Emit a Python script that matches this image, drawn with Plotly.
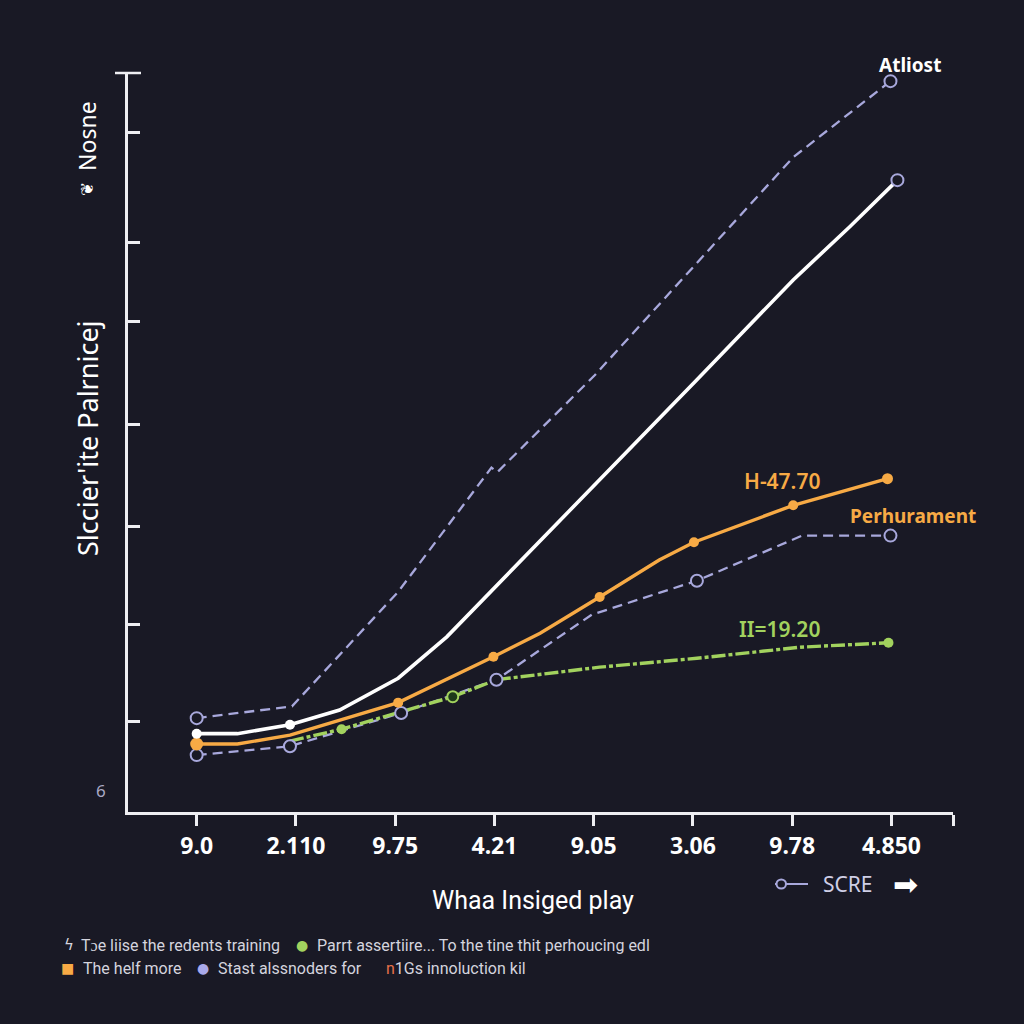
import plotly.graph_objects as go

# ---------------- data ----------------
x_labels = ["9.0", "2.110", "9.75", "4.21", "9.05", "3.06", "9.78", "4.850"]
x_tick_pos = [0, 1, 2, 3, 4, 5, 6, 7]

upper_x = [0, 0.96, 2.03, 2.97, 3.03, 4.01, 5.02, 6.01, 6.99]
upper_y = [12.7, 14.3, 29.8, 46.6, 46.0, 59.1, 74.0, 88.6, 98.9]

white_x = [0, 0.41, 0.94, 1.44, 2.03, 2.52, 5.04, 6.01, 6.58, 7.06]
white_y = [10.6, 10.6, 11.8, 13.8, 18.1, 23.7, 58.5, 72.0, 79.2, 85.5]

orange_x = [0, 0.41, 0.94, 2.03, 2.99, 3.46, 4.06, 4.66, 5.01, 6.01, 6.96]
orange_y = [9.2, 9.2, 10.4, 14.8, 21.0, 24.2, 29.1, 34.1, 36.5, 41.5, 45.1]

lower_x = [0, 0.94, 2.06, 3.02, 3.98, 5.04, 6.10, 6.99]
lower_y = [7.7, 8.9, 13.4, 17.9, 26.7, 31.3, 37.4, 37.4]

green_x = [0.94, 1.46, 2.58, 3.02, 4.06, 5.04, 6.08, 6.97]
green_y = [9.6, 11.2, 15.6, 17.9, 19.6, 20.8, 22.3, 22.9]

y_tick_vals = [12.3, 25.4, 38.7, 52.5, 66.4, 77.1, 92.0, 100]

# which points carry markers
upper_mk = [0, 8]
white_fill_mk = [0, 2]
white_open_mk = [9]
orange_mk = [0, 3, 4, 6, 8, 9, 10]
lower_mk = [0, 1, 2, 3, 5, 7]
green_fill_mk = [1, 7]
green_open_mk = [2]

# ---------------- styles ----------------
BG = "#191925"
LAV = "#a8a8dc"
ORANGE = "#f7aa45"
GREEN = "#a2d25e"
WHITE = "#ffffff"
AXIS = "#eeeef2"

def pick(xs, ys, idx):
    return [xs[i] for i in idx], [ys[i] for i in idx]

fig = go.Figure()

# lines
fig.add_trace(go.Scatter(x=lower_x, y=lower_y, mode="lines",
                         line=dict(color=LAV, width=2.3, dash="10px,6px"), showlegend=False))
fig.add_trace(go.Scatter(x=green_x, y=green_y, mode="lines",
                         line=dict(color=GREEN, width=3.4, dash="14px,3px,4px,3px"), showlegend=False))
fig.add_trace(go.Scatter(x=orange_x, y=orange_y, mode="lines",
                         line=dict(color=ORANGE, width=3.4), showlegend=False))
fig.add_trace(go.Scatter(x=white_x, y=white_y, mode="lines",
                         line=dict(color=WHITE, width=3.6), showlegend=False))
fig.add_trace(go.Scatter(x=upper_x, y=upper_y, mode="lines",
                         line=dict(color=LAV, width=2.3, dash="10px,6px"), showlegend=False))

# markers
mx, my = pick(lower_x, lower_y, lower_mk)
fig.add_trace(go.Scatter(x=mx, y=my, mode="markers", showlegend=False,
                         marker=dict(size=12, color=BG, line=dict(color=LAV, width=2))))
mx, my = pick(green_x, green_y, green_fill_mk)
fig.add_trace(go.Scatter(x=mx, y=my, mode="markers", showlegend=False,
                         marker=dict(size=10, color=GREEN, opacity=1, line=dict(width=0))))
mx, my = pick(green_x, green_y, green_open_mk)
fig.add_trace(go.Scatter(x=mx, y=my, mode="markers", showlegend=False,
                         marker=dict(size=11, color="#1e3a1a", line=dict(color=GREEN, width=2))))
mx, my = pick(orange_x, orange_y, orange_mk)
fig.add_trace(go.Scatter(x=mx, y=my, mode="markers", showlegend=False,
                         marker=dict(size=[13, 10, 10, 10, 10, 10, 11], color=ORANGE, opacity=1,
                                     line=dict(width=0))))
mx, my = pick(white_x, white_y, white_fill_mk)
fig.add_trace(go.Scatter(x=mx, y=my, mode="markers", showlegend=False,
                         marker=dict(size=10, color=WHITE, opacity=1, line=dict(width=0))))
mx, my = pick(white_x, white_y, white_open_mk)
fig.add_trace(go.Scatter(x=mx, y=my, mode="markers", showlegend=False,
                         marker=dict(size=12, color=BG, line=dict(color=LAV, width=2))))
mx, my = pick(upper_x, upper_y, upper_mk)
fig.add_trace(go.Scatter(x=mx, y=my, mode="markers", showlegend=False,
                         marker=dict(size=12, color=BG, line=dict(color=LAV, width=2))))

# ---------------- layout ----------------
L, R, T, B = 128, 953, 73, 812
W, H = R - L, B - T

def PX(p):
    return (p - L) / W

def PY(p):
    return (B - p) / H

fig.update_layout(
    width=1024, height=1024,
    margin=dict(l=L, r=1024 - R, t=T, b=1024 - B, pad=0),
    paper_bgcolor=BG, plot_bgcolor=BG,
    showlegend=False,
    font=dict(family="Noto Sans", color=WHITE),
)

fig.update_xaxes(
    range=[-0.692, 7.62], showgrid=False, zeroline=False,
    showline=True, linecolor=AXIS, linewidth=2.5,
    tickmode="array", tickvals=x_tick_pos + [7.62], ticktext=x_labels + [""],
    ticks="outside", ticklen=11, tickwidth=2.5, tickcolor=AXIS,
    ticklabelstandoff=1,
    tickfont=dict(family="Noto Sans", size=23, color=WHITE, weight="bold"),
)
fig.update_yaxes(
    range=[0, 100], showgrid=False, zeroline=False,
    showline=True, linecolor=AXIS, linewidth=2.5,
    tickmode="array", tickvals=y_tick_vals, ticktext=[""] * len(y_tick_vals),
    ticks="inside", ticklen=12, tickwidth=2.5, tickcolor=AXIS,
)

shapes = [
    dict(type="line", xref="paper", yref="paper", x0=PX(115), x1=PX(141), y0=1.0, y1=1.0,
         line=dict(color=AXIS, width=2.5)),
    dict(type="line", xref="paper", yref="paper", x0=PX(775), x1=PX(808), y0=PY(884), y1=PY(884),
         line=dict(color=LAV, width=2)),
    dict(type="circle", xref="paper", yref="paper", x0=PX(776.5), x1=PX(786), y0=PY(888.5), y1=PY(879.5),
         fillcolor=BG, line=dict(color=LAV, width=2)),
]
fig.update_layout(shapes=shapes)

def ann(px, py, text, size, color, weight="normal", family="Noto Sans", xanchor="center", angle=0):
    return dict(xref="paper", yref="paper", x=PX(px), y=PY(py), text=text, showarrow=False,
                xanchor=xanchor, yanchor="middle", textangle=angle,
                font=dict(family=family, size=size, color=color, weight=weight))

TXT = "#d4d4de"
annotations = [
    ann(910, 65, "Atliost", 19, WHITE, "bold"),
    ann(782, 481, "H-47.70", 21, ORANGE, 600),
    ann(913, 516, "Perhurament", 19, ORANGE, "bold"),
    ann(779, 629, "II=19.20", 21, GREEN, 600),
    ann(101, 790, "6", 17, "#a8a8c4"),
    ann(87, 438, "Slccier'ite Palrnicej", 27, WHITE, angle=-90),
    ann(87, 136, "Nosne", 23, WHITE, angle=-90),
    ann(87, 189, "\u2766", 17, WHITE, angle=-90, family="DejaVu Sans"),
    ann(533, 900, "Whaa Insiged play", 25, WHITE, family="Roboto"),
    ann(848, 884, "SCRE", 21, "#cfcfe6"),
    ann(905, 884, "\u27a1", 30, WHITE, family="DejaVu Sans"),
    # bottom legend rows
    ann(62, 945, "\u03df", 15, TXT, xanchor="left", family="DejaVu Sans"),
    ann(79, 945, "T\u0254e liise the redents training", 16, TXT, xanchor="left", family="Roboto"),
    ann(302, 945, "\u25cf", 14, GREEN, family="DejaVu Sans"),
    ann(315, 945, "Parrt assertiire... To the tine thit perhoucing edl", 16, TXT, xanchor="left", family="Roboto"),
    ann(67, 968, "\u25a0", 14, ORANGE, family="DejaVu Sans"),
    ann(81, 968, "The helf more", 16, TXT, xanchor="left", family="Roboto"),
    ann(203, 968, "\u25cf", 14, "#a9a9ea", family="DejaVu Sans"),
    ann(216, 968, "Stast alssnoders for", 16, TXT, xanchor="left", family="Roboto"),
    ann(384, 968, "<span style='color:#e8704a'>n</span>1Gs innoluction kil", 16, TXT, xanchor="left", family="Roboto"),
]
fig.update_layout(annotations=annotations)

fig.write_html(
    "out.html",
    config={"displayModeBar": False},
    post_script="document.body.style.margin='0';document.body.style.background='" + BG + "';",
)
